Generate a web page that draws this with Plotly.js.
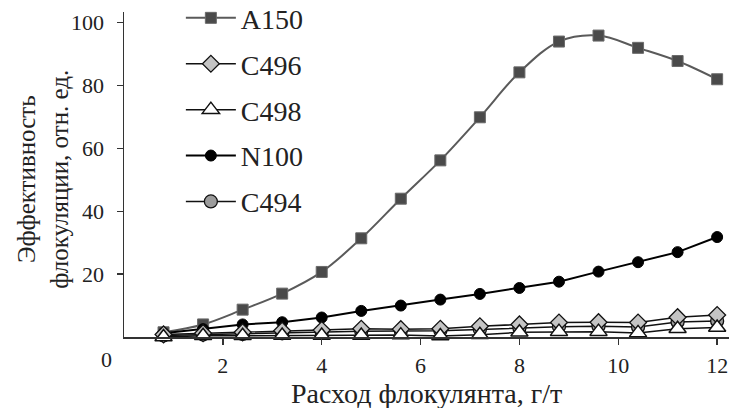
<!DOCTYPE html>
<html>
<head>
<meta charset="utf-8">
<script src="https://cdn.plot.ly/plotly-3.0.1.min.js"></script>
<style>html,body{margin:0;padding:0;background:#fff;}#chart{width:729px;height:408px;}</style>
</head>
<body>
<div id="chart"></div>
<script>
const dose = [0.8, 1.6, 2.4, 3.2, 4.0, 4.8, 5.6, 6.4, 7.2, 8.0, 8.8, 9.6, 10.4, 11.2, 12.0];
const A150 = [1.5, 4.0, 8.7, 13.8, 20.7, 31.4, 44.0, 56.2, 69.9, 84.2, 94.0, 95.9, 92.0, 87.8, 82.0];
const N100 = [1.2, 2.5, 4.0, 4.7, 6.2, 8.3, 10.0, 11.9, 13.7, 15.6, 17.6, 20.8, 23.8, 27.0, 31.8];
const C494 = [0.5, 0.8, 1.0, 1.2, 1.5, 1.8, 1.9, 2.0, 2.4, 2.9, 3.3, 3.4, 3.2, 4.8, 5.1];
const C496 = [0.8, 1.2, 1.5, 2.0, 2.2, 2.6, 2.5, 2.6, 3.4, 4.0, 4.6, 4.7, 4.6, 6.3, 7.0];
const C498 = [0.0, 0.4, 0.4, 0.5, 0.5, 0.5, 0.6, 0.3, 0.7, 1.5, 1.7, 1.7, 1.3, 2.6, 3.0];
const names = ["A150", "C496", "C498", "N100", "C494"];
const xTicks = [2, 4, 6, 8, 10, 12];
const yTicks = [20, 40, 60, 80, 100];
const xTitle = "Расход флокулянта, г/т";
const yTitle = "Эффективность<br>флокуляции, отн. ед.";

const font = "Liberation Serif, Times New Roman, serif";

const traces = [
  {x: dose, y: A150, name: names[0], legendrank: 1, legendgroup: "a", mode: "lines+markers",
   line: {color: "#5a5a5a", width: 2, shape: "spline"},
   marker: {symbol: "square", size: 11, color: "#4a4a4a", line: {color: "#6a6a6a", width: 1}}},
  {x: dose, y: N100, name: names[3], legendrank: 4, legendgroup: "d", mode: "lines+markers",
   line: {color: "#000", width: 2},
   marker: {symbol: "circle", size: 11, color: "#000", line: {color: "#000", width: 1}}},
  {x: dose, y: C494, name: names[4], legendrank: 5, legendgroup: "e", mode: "lines+markers",
   line: {color: "#111", width: 1.5},
   marker: {symbol: "circle", size: 13, color: "#9c9c9c", line: {color: "#111", width: 1.3}}},
  {x: dose, y: C496, name: names[1], legendrank: 2, legendgroup: "b", mode: "lines+markers",
   line: {color: "#111", width: 1.5},
   marker: {symbol: "diamond", size: 13, color: "#c4c4c4", line: {color: "#111", width: 1.3}}},
  {x: dose, y: C498, name: names[2], legendrank: 3, legendgroup: "c", mode: "lines+markers",
   line: {color: "#111", width: 1.5},
   marker: {symbol: "triangle-up", size: 15, color: "#fff", line: {color: "#111", width: 1.5}}}
];
traces.forEach(t => t.cliponaxis = false);

const layout = {
  width: 729, height: 408,
  margin: {l: 124, r: 0, t: 12, b: 70.5, autoexpand: false},
  paper_bgcolor: "#fff", plot_bgcolor: "#fff",
  font: {family: font, size: 22, color: "#222"},
  showlegend: true,
  legend: {x: 0.094, y: 1.058, xanchor: "left", yanchor: "top", bgcolor: "rgba(0,0,0,0)",
           maxheight: 1000,
           font: {family: font, size: 28, color: "#222"}, tracegroupgap: 6.5, itemwidth: 50},
  xaxis: {range: [0, 12.24], tickvals: xTicks, ticks: "outside", ticklen: 6, tickwidth: 1.5,
          tickcolor: "#333", showline: true, linecolor: "#333", linewidth: 1.5,
          showgrid: false, zeroline: false, ticklabelstandoff: 2, automargin: false,
          tickfont: {family: font, size: 22, color: "#222"}},
  yaxis: {range: [0, 103.4], tickvals: yTicks, ticks: "outside", ticklen: 6, tickwidth: 1.5,
          tickcolor: "#333", showline: true, linecolor: "#333", linewidth: 1.5,
          showgrid: false, zeroline: false, ticklabelstandoff: 8, automargin: false,
          tickfont: {family: font, size: 22, color: "#222"}},
  annotations: [
    {text: "0", xref: "paper", yref: "paper", x: -18/605, y: -23/325.5, xanchor: "center", yanchor: "middle",
     showarrow: false, font: {family: font, size: 22, color: "#222"}},
    {text: xTitle, xref: "paper", yref: "paper", x: (426-124)/605, y: -(394-337.5)/325.5, xanchor: "center", yanchor: "middle",
     showarrow: false, font: {family: font, size: 28, color: "#222"}},
    {text: yTitle, xref: "paper", yref: "paper", x: -(124-43)/605, y: (337.5-180)/325.5, xanchor: "center", yanchor: "middle",
     textangle: -90, showarrow: false, font: {family: font, size: 25, color: "#222"}}
  ]
};
Plotly.newPlot("chart", traces, layout, {displayModeBar: false, staticPlot: true});
</script>
</body>
</html>
